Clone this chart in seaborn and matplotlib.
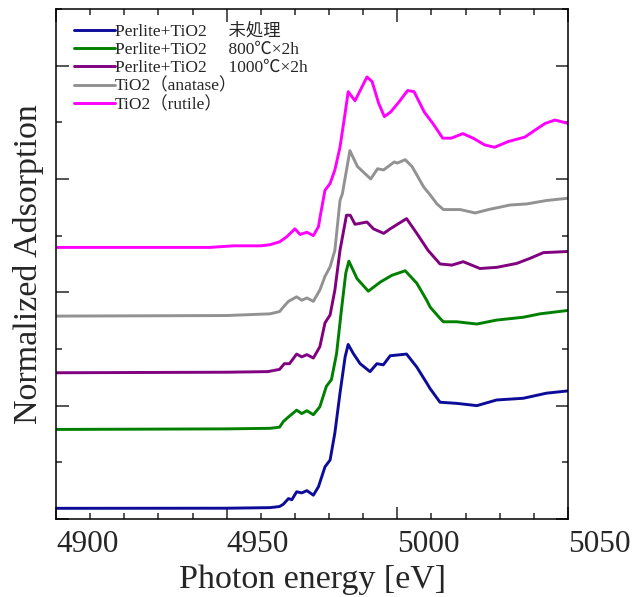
import pandas as pd
import seaborn as sns
import matplotlib.pyplot as plt
from matplotlib.ticker import MultipleLocator

# Ti K-edge XANES (offset already included)
e_raw = [4900, 4950, 4962.7, 4965.5, 4966.6, 4968.1, 4969.1, 4970.5, 4972, 4973.5, 4975.4,
         4976.9, 4978.8, 4980.3, 4981.7, 4983.2, 4984.7, 4985.6, 4987.1, 4989.1, 4992,
         4994, 4995.9, 4997.9, 5002.7, 5005.7, 5008.6, 5009.6, 5012.5, 5017.4, 5023.3,
         5029.1, 5036.9, 5043.7, 5050]
y_raw = [0.094, 0.095, 0.10, 0.11, 0.13, 0.18, 0.17, 0.24, 0.23, 0.25, 0.21,
         0.285, 0.46, 0.52, 0.76, 1.11, 1.43, 1.54, 1.46, 1.37, 1.30,
         1.37, 1.36, 1.44, 1.455, 1.34, 1.20, 1.15, 1.03, 1.02, 1.00,
         1.05, 1.065, 1.11, 1.13]

e_800 = [4900, 4950, 4962.7, 4965.5, 4966.6, 4968.1, 4970.5, 4972, 4973.5, 4975.4, 4977.3,
         4979.2, 4980.7, 4982.2, 4983.6, 4984.9, 4985.8, 4988.2, 4991.5, 4995, 4998.4,
         5002.3, 5005.7, 5008.6, 5009.6, 5012.5, 5013.5, 5017.4, 5023.3, 5029.1, 5036.9,
         5041.8, 5050]
y_800 = [0.79, 0.795, 0.80, 0.81, 0.86, 0.90, 0.96, 0.93, 0.955, 0.92, 0.99,
         1.17, 1.23, 1.46, 1.84, 2.17, 2.275, 2.12, 2.01, 2.09, 2.15,
         2.19, 2.08, 1.93, 1.87, 1.77, 1.74, 1.74, 1.72, 1.755, 1.78,
         1.81, 1.84]

e_1000 = [4900, 4950, 4962, 4965.5, 4966.9, 4968.4, 4970.5, 4972, 4973.5, 4975.4, 4977.3,
          4978.8, 4980.3, 4981.7, 4983.2, 4985.1, 4986.2, 4987.6, 4991.1, 4993, 4996,
          4997.9, 5002.7, 5005.7, 5009, 5012.5, 5016, 5019.3, 5024.2, 5029.1, 5035,
          5038.9, 5042.8, 5050]
y_1000 = [1.29, 1.295, 1.30, 1.32, 1.37, 1.37, 1.455, 1.43, 1.45, 1.42, 1.52,
          1.73, 1.80, 2.02, 2.37, 2.68, 2.68, 2.60, 2.62, 2.56, 2.52,
          2.56, 2.65, 2.52, 2.37, 2.25, 2.24, 2.27, 2.21, 2.22, 2.255,
          2.30, 2.35, 2.36]

e_ana = [4900, 4950, 4962.7, 4965.5, 4966.6, 4968.1, 4970.5, 4972, 4973.5, 4975.4, 4977.3,
         4978.8, 4980.3, 4981.7, 4983.2, 4983.9, 4986.1, 4988.3, 4992.2, 4994.2, 4996,
         4999.1, 5000, 5002.3, 5004.3, 5007.7, 5009.6, 5011.6, 5013.5, 5018.4, 5022.8,
         5026.7, 5033, 5038, 5043.7, 5050]
y_ana = [1.79, 1.795, 1.81, 1.83, 1.87, 1.92, 1.96, 1.93, 1.95, 1.92, 2.02,
         2.14, 2.225, 2.37, 2.81, 2.87, 3.25, 3.11, 3.00, 3.09, 3.08,
         3.15, 3.14, 3.17, 3.11, 2.93, 2.86, 2.78, 2.73, 2.73, 2.70,
         2.73, 2.77, 2.78, 2.81, 2.83]

e_rut = [4900, 4945, 4952, 4960, 4962.7, 4965.5, 4967.6, 4970, 4971.5, 4973.5, 4975.4,
         4976.9, 4977.4, 4978.8, 4980.3, 4981.7, 4983.2, 4984.7, 4985.6, 4987.6, 4989.6,
         4991.1, 4992.6, 4994.5, 4996.2, 4998, 5000.5, 5003, 5004.9, 5007.9, 5010.4,
         5013.3, 5015.8, 5019.2, 5022.2, 5025.6, 5028.5, 5032.5, 5037.4, 5040.3, 5043.3,
         5046.2, 5050]
y_rut = [2.396, 2.396, 2.41, 2.41, 2.42, 2.445, 2.49, 2.56, 2.51, 2.53, 2.50,
         2.58, 2.67, 2.90, 2.96, 3.08, 3.28, 3.58, 3.77, 3.69, 3.81,
         3.90, 3.86, 3.67, 3.55, 3.59, 3.68, 3.78, 3.77, 3.59, 3.49,
         3.36, 3.36, 3.40, 3.36, 3.30, 3.28, 3.33, 3.37, 3.43, 3.49,
         3.52, 3.49]

labels = ['Perlite+TiO2\u3000 未処理',
          'Perlite+TiO2\u3000 800℃×2h',
          'Perlite+TiO2\u3000 1000℃×2h',
          'TiO2（anatase）',
          'TiO2（rutile）']
colors = ['#0c0c99', '#008000', '#800080', '#929292', '#ff00ff']

frames = []
for lab, e, y in zip(labels, [e_raw, e_800, e_1000, e_ana, e_rut],
                     [y_raw, y_800, y_1000, y_ana, y_rut]):
    frames.append(pd.DataFrame({'energy': e, 'absorb': y, 'sample': lab}))
df = pd.concat(frames, ignore_index=True)

sns.set_style('ticks')
plt.rcParams['font.family'] = ['Liberation Serif', 'Noto Sans CJK JP']

fig = plt.figure(figsize=(6.35, 5.97), dpi=100)
ax = fig.add_axes([0.0882, 0.1307, 0.8063, 0.8543])
sns.lineplot(data=df, x='energy', y='absorb', hue='sample', hue_order=labels,
             palette=colors, linewidth=2.1, sort=False, estimator=None, ax=ax)

ax.set_xlim(4900, 5050)
ax.set_ylim(0, 4.5)
ax.xaxis.set_major_locator(MultipleLocator(50))
ax.xaxis.set_minor_locator(MultipleLocator(10))
ax.yaxis.set_major_locator(MultipleLocator(1))
ax.yaxis.set_minor_locator(MultipleLocator(0.5))
ax.tick_params(which='both', direction='in', top=True, right=True, width=1.1)
ax.tick_params(which='major', length=9)
ax.tick_params(which='minor', length=4.5)
ax.tick_params(axis='x', labelsize=22.5, pad=8)
ax.set_yticklabels([])
for t in ax.get_xticklabels():
    t.set_horizontalalignment('left')
for s in ax.spines.values():
    s.set_linewidth(1.1)
    s.set_color('black')

ax.set_xlabel('Photon energy [eV]', fontsize=24.5, labelpad=4)
ax.set_ylabel('Normalized Adsorption', fontsize=24.5, labelpad=5)

ax.legend(loc='upper left', bbox_to_anchor=(0.035, 0.972), frameon=False,
          fontsize=12.5, handlelength=2.35, handletextpad=0.0,
          labelspacing=0.12, borderpad=0, borderaxespad=0)

fig.savefig('out.png', dpi=100)
